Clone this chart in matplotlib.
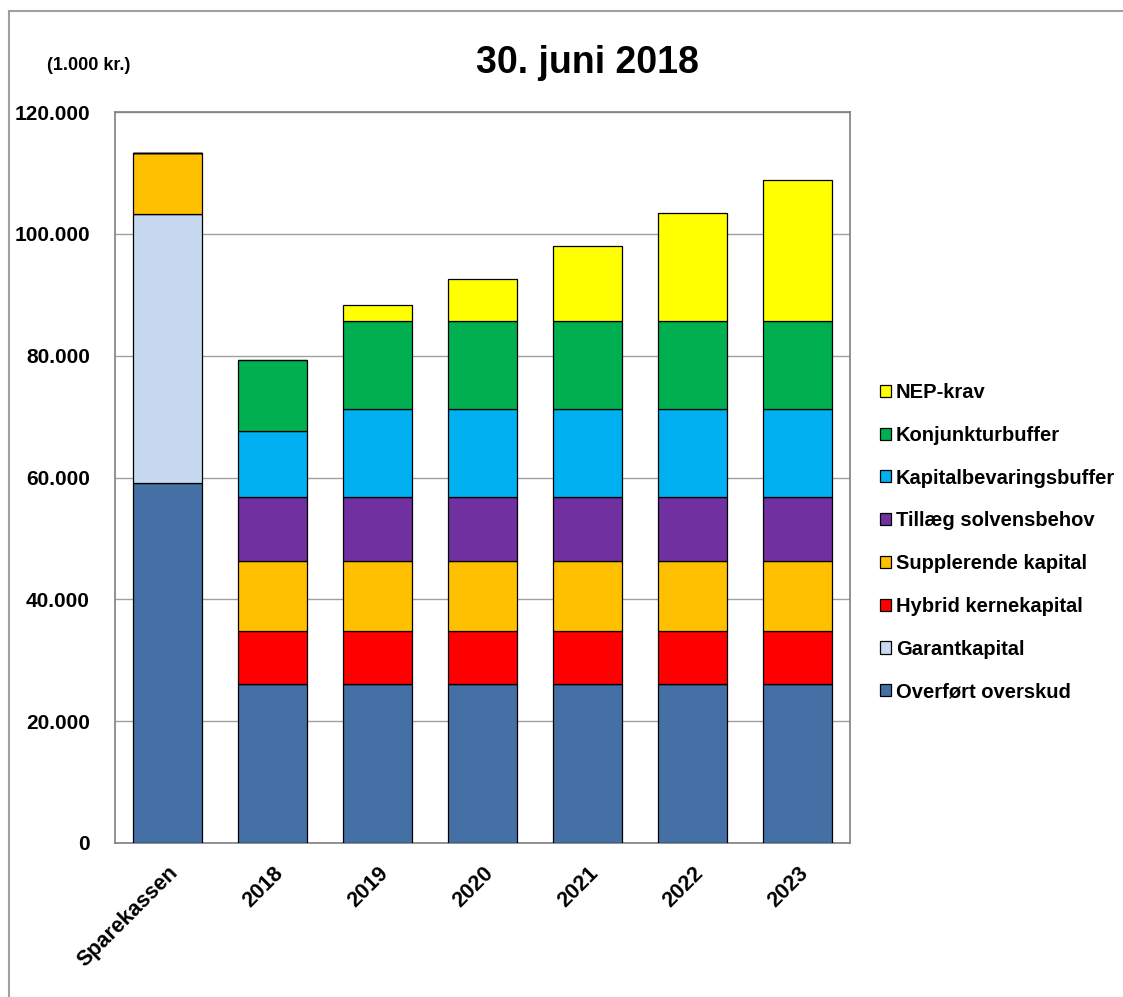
import numpy as np
import matplotlib.pyplot as plt
from matplotlib.lines import Line2D
from matplotlib.transforms import ScaledTranslation

plt.rcParams['font.family'] = ['Liberation Sans Narrow', 'Liberation Sans', 'DejaVu Sans']
plt.rcParams['font.weight'] = 'bold'

# data (1.000 kr.)
categories = ['Sparekassen', '2018', '2019', '2020', '2021', '2022', '2023']
overfoert = [59100, 26100, 26100, 26100, 26100, 26100, 26100]
garant = [44200, 0, 0, 0, 0, 0, 0]
hybrid = [0, 8700, 8700, 8700, 8700, 8700, 8700]
supplerende = [10000, 11500, 11500, 11500, 11500, 11500, 11500]
tillaeg = [0, 10500, 10500, 10500, 10500, 10500, 10500]
kapitalbev = [0, 10900, 14500, 14500, 14500, 14500, 14500]
konjunktur = [0, 11600, 14400, 14400, 14400, 14400, 14400]
nep = [0, 0, 2600, 6900, 12300, 17700, 23200]

series = [
    ('Overført overskud', overfoert, '#4470A5'),
    ('Garantkapital', garant, '#C6D9F1'),
    ('Hybrid kernekapital', hybrid, '#FF0000'),
    ('Supplerende kapital', supplerende, '#FFC000'),
    ('Tillæg solvensbehov', tillaeg, '#7030A0'),
    ('Kapitalbevaringsbuffer', kapitalbev, '#00B0F0'),
    ('Konjunkturbuffer', konjunktur, '#00B050'),
    ('NEP-krav', nep, '#FFFF00'),
]

fig = plt.figure(figsize=(11.23, 9.97), dpi=100)
ax = fig.add_axes([115 / 1123, 1 - 843 / 997, 735 / 1123, 731 / 997])

x = np.arange(len(categories))
bottom = np.zeros(len(categories))
handles = []
for name, vals, col in series:
    vals = np.array(vals, dtype=float)
    # zero-height segments still draw their outline, like the original
    ax.bar(x, vals, bottom=bottom, width=0.65, color=col,
           edgecolor='black', linewidth=0.9, zorder=3)
    bottom += vals
    handles.append(plt.Rectangle((0, 0), 1, 1, facecolor=col, edgecolor='black', linewidth=0.9))

ax.set_xlim(-0.5, len(categories) - 0.5)
ax.set_ylim(0, 120000)
ax.set_yticks(np.arange(0, 120001, 20000))
ax.set_yticklabels(['0' if v == 0 else f'{v // 1000}.000' for v in range(0, 120001, 20000)],
                   fontsize=15, fontweight='bold')
ax.set_xticks(x)
ax.set_xticklabels(categories, rotation=45, ha='right', va='top', rotation_mode='anchor',
                   fontsize=15.5, fontweight='bold')
shift = ScaledTranslation(-4 / 100, 0, fig.dpi_scale_trans)
for lab in ax.get_xticklabels():
    lab.set_transform(lab.get_transform() + shift)
ax.tick_params(axis='y', length=0, pad=18)
ax.tick_params(axis='x', length=0, pad=14)
ax.grid(axis='y', color='#A0A0A0', linewidth=1, zorder=0)
for s in ax.spines.values():
    s.set_color('#7F7F7F')
    s.set_linewidth(1.2)

fig.text(587 / 1123, 1 - 63 / 997, '30. juni 2018', ha='center', va='center',
         fontsize=27, fontweight='bold')
fig.text(89 / 1123, 1 - 65 / 997, '(1.000 kr.)', ha='center', va='center',
         fontsize=13, fontweight='bold')

leg = fig.legend(handles[::-1], [s[0] for s in series][::-1],
                 loc='upper left', bbox_to_anchor=(880 / 1123, 1 - 383 / 997),
                 frameon=False, fontsize=14.5, handlelength=0.55, handleheight=0.55,
                 handletextpad=0.25, labelspacing=1.18, borderaxespad=0, borderpad=0)
for t in leg.get_texts():
    t.set_fontweight('bold')

# outer frame (left and top edge)
fig.add_artist(Line2D([9 / 1123, 9 / 1123], [0, 1 - 11 / 997], color='#A0A0A0', linewidth=1.5))
fig.add_artist(Line2D([9 / 1123, 1], [1 - 11 / 997, 1 - 11 / 997], color='#A0A0A0', linewidth=1.5))

fig.savefig('out.png', dpi=100)
